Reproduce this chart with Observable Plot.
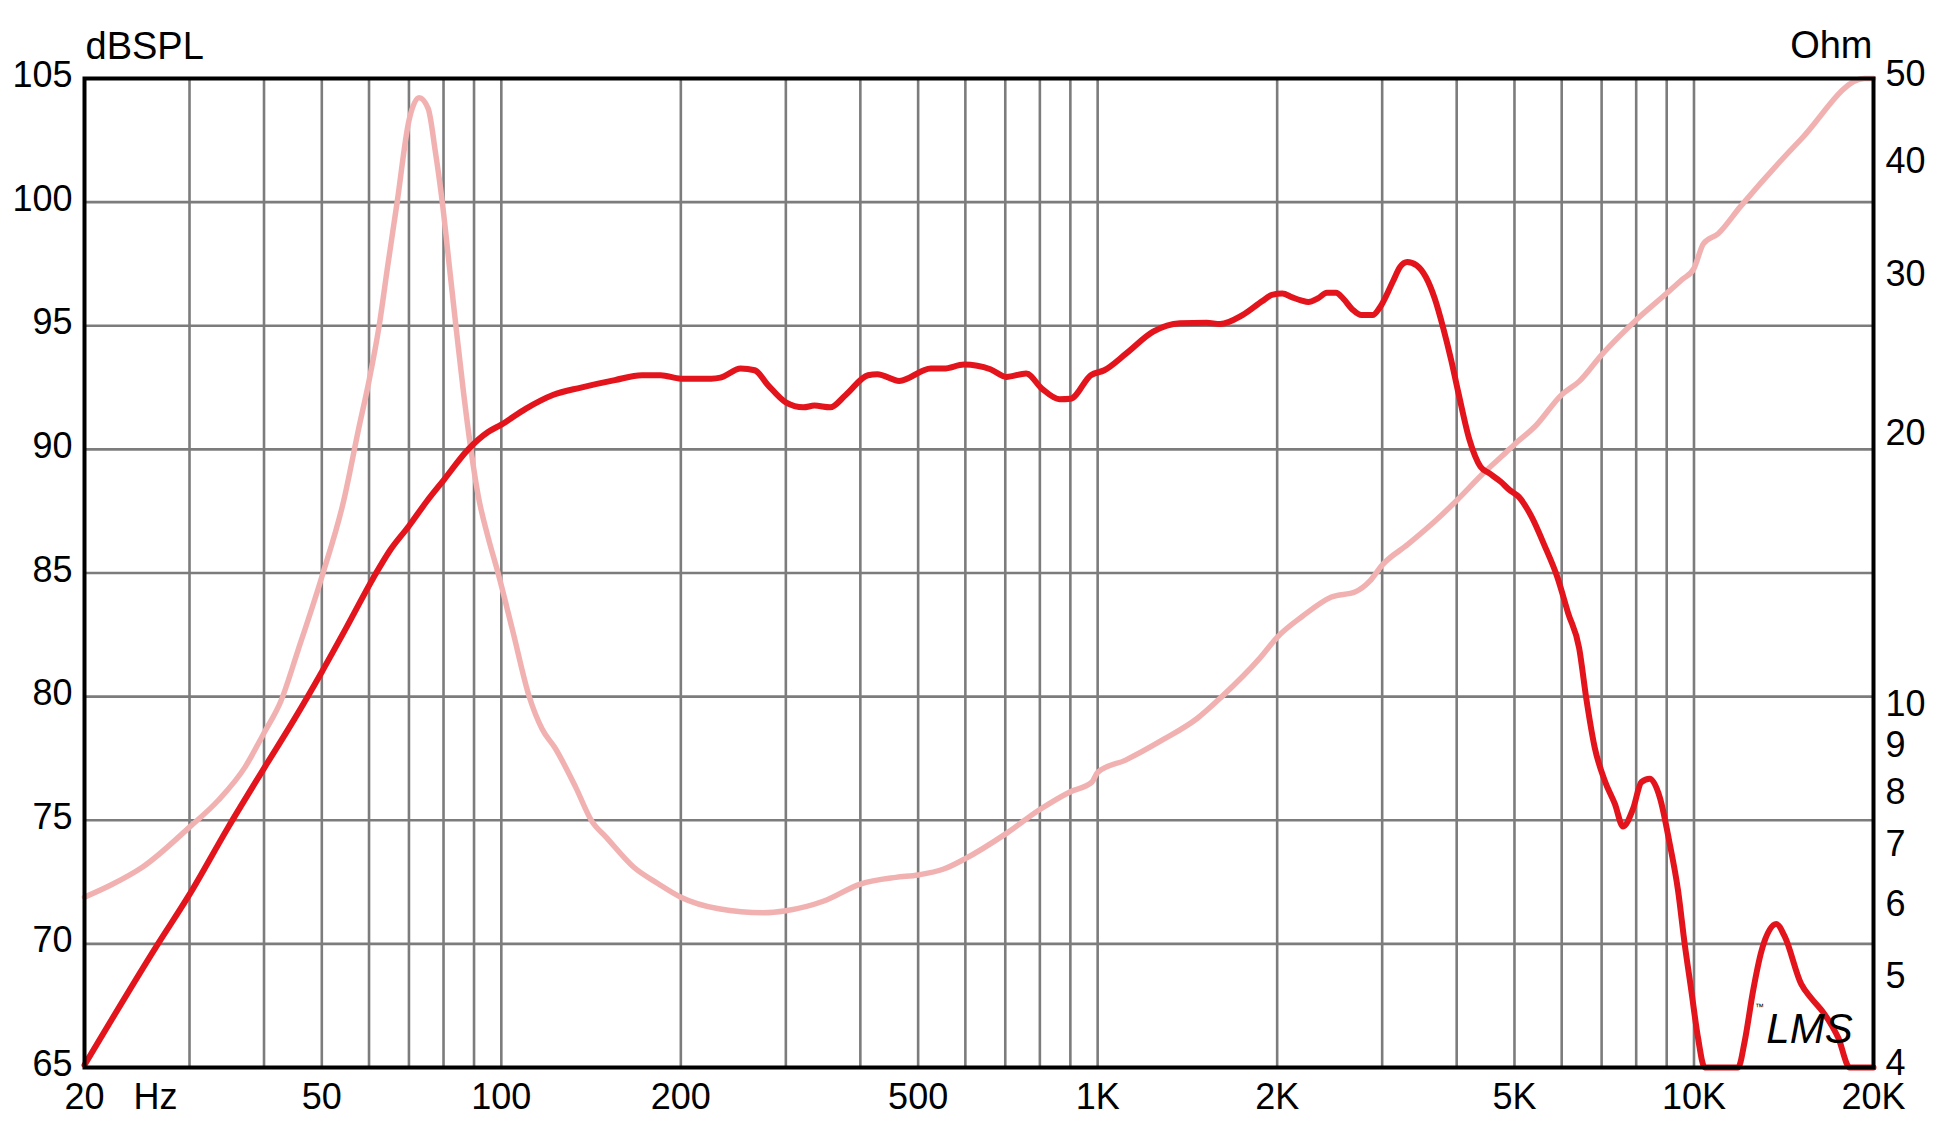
<!DOCTYPE html>
<html>
<head>
<meta charset="utf-8">
<script src="https://cdn.jsdelivr.net/npm/d3@7"></script>
<script src="https://cdn.jsdelivr.net/npm/@observablehq/plot@0.6"></script>
<style>
html, body { margin: 0; padding: 0; background: #fff; }
#chart svg { display: block; }
</style>
</head>
<body>
<div id="chart"></div>
<script>
// SPL response (dB SPL) vs frequency (Hz)
const splFreq = [20, 26.4, 30, 34.8, 40, 45, 50, 55, 61, 65,
  70, 75, 80, 88, 95, 100, 110, 122, 136, 155,
  172, 185, 200, 225, 233, 252, 266, 280, 300, 321,
  335, 356, 378, 412, 427, 465, 525, 552, 597, 661,
  703, 759, 806, 863, 901, 974, 1026, 1117, 1239, 1374,
  1523, 1604, 1749, 1889, 1960, 2040, 2120, 2193, 2257, 2338,
  2424, 2510, 2581, 2674, 2771, 2891, 2973, 3124, 3214, 3305,
  3425, 3549, 3675, 3805, 3917, 4028, 4203, 4384, 4540, 4737,
  4909, 5085, 5343, 5611, 5897, 6153, 6419, 6600, 6815, 7085,
  7365, 7604, 7903, 8161, 8429, 8763, 9106, 9403, 9647, 9899,
  10157, 10422, 11857, 12165, 12563, 12974, 13745, 14193, 15132, 15731,
  16563, 17455, 18250, 20000];
const splDb = [65.1, 69.9, 72.0, 74.7, 77.1, 79.1, 81.0, 82.8, 84.8, 85.9,
  86.9, 87.9, 88.75, 90.0, 90.7, 91.0, 91.65, 92.2, 92.5, 92.8,
  93.0, 93.0, 92.86, 92.86, 92.9, 93.27, 93.2, 92.6, 91.9, 91.7,
  91.77, 91.7, 92.2, 93.0, 93.04, 92.77, 93.27, 93.27, 93.43, 93.24,
  92.93, 93.07, 92.46, 92.03, 92.05, 93.0, 93.2, 93.88, 94.76, 95.1,
  95.12, 95.07, 95.43, 96.0, 96.25, 96.3, 96.15, 96.03, 95.96, 96.1,
  96.33, 96.33, 96.1, 95.66, 95.43, 95.43, 95.74, 96.77, 97.38, 97.58,
  97.45, 96.98, 96.1, 94.83, 93.6, 92.27, 90.38, 89.3, 89.03, 88.7,
  88.35, 88.08, 87.27, 86.13, 84.85, 83.37, 81.96, 79.9, 77.95, 76.6,
  75.67, 74.75, 75.46, 76.54, 76.68, 75.93, 74.05, 72.16, 70.0, 68.1,
  66.2, 65.0, 65.0, 66.07, 68.1, 69.7, 70.8, 70.3, 68.37, 67.8,
  67.15, 66.2, 65.0, 65.0];

// Impedance (Ohm) vs frequency (Hz)
const impFreq = [20, 22.1, 25, 30, 33.5, 37.2, 40, 42.7, 45.6, 50,
  54.4, 57.7, 60, 62.4, 64.5, 66.9, 70, 72.8, 75.4, 77.5,
  79.6, 81.8, 83.9, 86.3, 88.9, 91.5, 95, 98.7, 104.5, 111.4,
  117, 123, 133.3, 141.7, 150, 166.8, 183, 200, 231.6, 275,
  300, 347.5, 400, 458.8, 500, 552, 600, 700, 800, 900,
  978, 1000, 1114, 1291, 1470, 1612, 1869, 2000, 2208, 2466,
  2706, 2859, 3000, 3316, 3704, 4000, 4455, 4838, 5000, 5417,
  6000, 6419, 7000, 8000, 9000, 9531, 10000, 10374, 10977, 11943,
  15110, 19300, 20000];
const impOhm = [6.18, 6.37, 6.67, 7.39, 7.91, 8.62, 9.4, 10.2, 11.6, 14.0,
  17.0, 20.5, 23.1, 26.6, 31.0, 36.5, 44.9, 47.6, 46.3, 41.5,
  36.5, 31.0, 26.6, 22.6, 19.4, 17.2, 15.5, 14.16, 12.2, 10.31,
  9.5, 9.05, 8.18, 7.51, 7.2, 6.67, 6.4, 6.18, 6.0, 5.94,
  5.97, 6.12, 6.39, 6.5, 6.54, 6.64, 6.82, 7.26, 7.73, 8.09,
  8.29, 8.5, 8.77, 9.25, 9.76, 10.3, 11.37, 12.0, 12.67, 13.3,
  13.48, 13.85, 14.43, 15.22, 16.21, 17.02, 18.3, 19.24, 19.64, 20.57,
  22.3, 23.07, 24.69, 26.99, 28.89, 29.89, 30.79, 32.8, 33.64, 36.0,
  42.8, 50, 50];

// Axis ticks and labels
const freqTicks = [20, 50, 100, 200, 500, 1000, 2000, 5000, 10000, 20000];
const freqTickLabels = ["20", "50", "100", "200", "500", "1K", "2K", "5K", "10K", "20K"];
const gridFreqs = [30, 40, 50, 60, 70, 80, 90, 100, 200, 300, 400, 500, 600, 700, 800, 900,
  1000, 2000, 3000, 4000, 5000, 6000, 7000, 8000, 9000, 10000];
const dbTicks = [65, 70, 75, 80, 85, 90, 95, 100, 105];
const dbGrid = [70, 75, 80, 85, 90, 95, 100];
const ohmTicks = [4, 5, 6, 7, 8, 9, 10, 20, 30, 40, 50];
const ohmDomain = [4, 50];
const dbDomain = [65, 105];
const freqDomain = [20, 20000];

const spl = splFreq.map((f, i) => ({f, db: splDb[i]}));
const imp = impFreq.map((f, i) => ({f, z: impOhm[i]}));
const freqLabel = new Map(freqTicks.map((f, i) => [f, freqTickLabels[i]]));

// secondary (Ohm, log) axis mapped onto the dB scale
const ohmToDb = d3.scaleLog().domain(ohmDomain).range(dbDomain);
const ohmPos = ohmTicks.map(t => ohmToDb(t));
const ohmLabel = d => {
  const i = ohmPos.findIndex(p => Math.abs(p - d) < 1e-9);
  return i >= 0 ? String(ohmTicks[i]) : "";
};

const FONT = "'Liberation Sans', Arial, Helvetica, sans-serif";
const FS = 36;

const chart = Plot.plot({
  width: 1946,
  height: 1141,
  marginLeft: 84,
  marginRight: 73,
  marginTop: 78,
  marginBottom: 74,
  style: {fontFamily: FONT, fontSize: FS + "px", background: "#fff", color: "#000"},
  x: {type: "log", domain: freqDomain, label: null},
  y: {domain: dbDomain, label: null},
  marks: [
    Plot.gridX(gridFreqs, {stroke: "#7c7c7c", strokeOpacity: 1, strokeWidth: 2.6}),
    Plot.gridY(dbGrid, {stroke: "#7c7c7c", strokeOpacity: 1, strokeWidth: 2.6}),
    Plot.line(imp, {x: "f", y: d => ohmToDb(d.z), stroke: "#f2b1b1", strokeWidth: 5.5,
      curve: "monotone-x", strokeLinejoin: "round", strokeLinecap: "round"}),
    Plot.line(spl, {x: "f", y: "db", stroke: "#e3141b", strokeWidth: 6,
      curve: "monotone-x", strokeLinejoin: "round", strokeLinecap: "round"}),
    Plot.frame({stroke: "#000", strokeWidth: 4}),
    Plot.axisX(freqTicks, {anchor: "bottom", tickSize: 0, tickPadding: 16, fontSize: FS,
      tickFormat: d => freqLabel.get(d), label: null}),
    Plot.axisY(dbTicks, {anchor: "left", tickSize: 0, tickPadding: 12, fontSize: FS,
      dy: -3, tickFormat: d => String(d), label: null}),
    Plot.axisY(ohmPos, {anchor: "right", tickSize: 0, tickPadding: 12, fontSize: FS,
      dy: -4, tickFormat: ohmLabel, label: null}),
    Plot.text(["dBSPL"], {frameAnchor: "top-left", textAnchor: "start", lineAnchor: "bottom",
      dx: 1, dy: -20, fontSize: 38, fill: "#000"}),
    Plot.text(["Ohm"], {frameAnchor: "top-right", textAnchor: "end", lineAnchor: "bottom",
      dx: -1, dy: -21, fontSize: 38, fill: "#000"}),
    Plot.text(["Hz"], {frameAnchor: "bottom-left", textAnchor: "middle", lineAnchor: "top",
      dx: 71, dy: 16, fontSize: FS, fill: "#000"}),
    Plot.text(["LMS"], {frameAnchor: "bottom-right", textAnchor: "middle", lineAnchor: "middle",
      dx: -64, dy: -38, fontSize: 42, fontStyle: "italic", fill: "#000"}),
    Plot.text(["™"], {frameAnchor: "bottom-right", textAnchor: "middle", lineAnchor: "middle",
      dx: -114, dy: -60, fontSize: 9, fill: "#000"})
  ]
});

document.getElementById("chart").appendChild(chart);
</script>
</body>
</html>
